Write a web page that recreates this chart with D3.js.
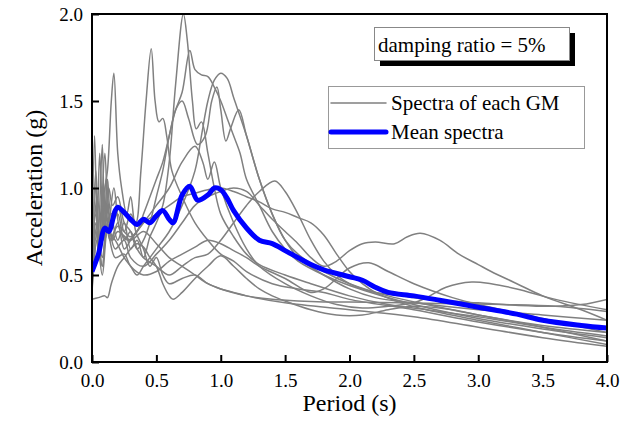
<!DOCTYPE html>
<html>
<head>
<meta charset="utf-8">
<script src="https://cdn.jsdelivr.net/npm/d3@7"></script>
<style>
  body { margin: 0; background: #fff; }
  text { font-family: "Liberation Serif", "Times New Roman", serif; }
</style>
</head>
<body>
<div class="canvas"></div>
<script>
// spectra of each ground motion, [period (s), Sa (g)]
const gm1 = [[0,0.42],[0.03,0.9],[0.05,0.6],[0.08,1.0],[0.1,0.7],[0.14,0.85],[0.2,0.7],[0.25,0.8],[0.3,0.65],[0.35,0.7],[0.4,0.6],[0.45,0.72],[0.5,0.8],[0.55,0.9],[0.6,1.15],[0.65,1.6],[0.71,2.0],[0.74,1.85],[0.78,1.5],[0.81,1.34],[0.85,1.38],[0.9,1.2],[0.95,1.0],[1.0,0.85],[1.1,0.72],[1.2,0.62],[1.3,0.56],[1.5,0.5],[1.7,0.45],[2.0,0.38],[2.3,0.33],[2.6,0.3],[3.0,0.26],[3.5,0.2],[4.0,0.15]];
const gm2 = [[0,0.55],[0.02,1.3],[0.04,0.8],[0.06,1.2],[0.09,0.7],[0.12,1.05],[0.15,0.85],[0.2,0.9],[0.25,0.75],[0.3,0.85],[0.34,0.8],[0.38,1.1],[0.42,1.5],[0.46,1.8],[0.49,1.5],[0.52,1.38],[0.55,1.4],[0.58,1.3],[0.62,1.1],[0.7,0.95],[0.8,0.8],[0.9,0.7],[1.0,0.62],[1.1,0.58],[1.2,0.52],[1.4,0.45],[1.6,0.42],[1.8,0.4],[2.0,0.36],[2.5,0.3],[3.0,0.23],[3.5,0.17],[4.0,0.12]];
const gm3 = [[0,0.5],[0.03,0.75],[0.06,0.6],[0.09,0.95],[0.12,1.1],[0.15,1.5],[0.17,1.66],[0.2,1.2],[0.23,1.0],[0.27,0.85],[0.3,0.95],[0.34,0.75],[0.4,0.65],[0.45,0.55],[0.5,0.6],[0.55,0.5],[0.6,0.45],[0.7,0.48],[0.8,0.5],[0.9,0.45],[1.0,0.42],[1.2,0.38],[1.5,0.34],[2.0,0.3],[2.5,0.26],[3.0,0.2],[3.5,0.14],[4.0,0.09]];
const gm4 = [[0,0.6],[0.03,1.1],[0.05,0.75],[0.08,1.25],[0.1,0.8],[0.13,1.0],[0.16,0.9],[0.2,0.95],[0.25,0.8],[0.3,0.75],[0.35,0.65],[0.4,0.7],[0.45,0.8],[0.5,0.95],[0.55,1.1],[0.6,1.3],[0.65,1.45],[0.7,1.55],[0.76,1.79],[0.8,1.68],[0.85,1.65],[0.9,1.64],[0.95,1.58],[1.0,1.5],[1.05,1.4],[1.1,1.3],[1.15,1.2],[1.2,1.05],[1.3,0.9],[1.4,0.75],[1.5,0.65],[1.6,0.58],[1.8,0.5],[2.0,0.44],[2.5,0.33],[3.0,0.25],[3.5,0.19],[4.0,0.14]];
const gm5 = [[0,0.45],[0.04,0.8],[0.08,0.6],[0.12,0.75],[0.18,0.7],[0.25,0.6],[0.3,0.55],[0.35,0.5],[0.4,0.55],[0.5,0.65],[0.6,0.75],[0.7,0.9],[0.8,1.1],[0.85,1.3],[0.9,1.5],[0.95,1.62],[1.0,1.66],[1.05,1.63],[1.1,1.52],[1.2,1.3],[1.3,1.05],[1.4,0.85],[1.5,0.7],[1.6,0.6],[1.8,0.5],[2.0,0.42],[2.2,0.37],[2.5,0.34],[3.0,0.3],[3.5,0.27],[4.0,0.24]];
const gm6 = [[0,0.48],[0.03,1.0],[0.06,0.7],[0.1,1.2],[0.13,0.8],[0.17,1.0],[0.22,0.75],[0.28,0.7],[0.35,0.75],[0.4,0.85],[0.45,0.95],[0.5,1.05],[0.55,1.15],[0.6,1.3],[0.65,1.45],[0.7,1.5],[0.75,1.4],[0.82,1.25],[0.88,1.3],[0.93,1.5],[0.97,1.58],[1.0,1.45],[1.04,1.27],[1.08,1.35],[1.14,1.45],[1.2,1.3],[1.3,1.05],[1.4,0.85],[1.5,0.7],[1.6,0.62],[1.8,0.52],[2.0,0.45],[2.3,0.38],[2.6,0.33],[3.0,0.27],[3.5,0.21],[4.0,0.17]];
const gm7 = [[0,0.4],[0.04,0.7],[0.08,0.55],[0.12,0.8],[0.18,0.65],[0.25,0.7],[0.3,0.6],[0.4,0.55],[0.5,0.62],[0.6,0.7],[0.7,0.8],[0.8,0.9],[0.9,0.95],[1.0,0.98],[1.1,1.0],[1.2,0.98],[1.3,0.9],[1.4,0.82],[1.5,0.75],[1.6,0.68],[1.7,0.6],[1.8,0.55],[1.9,0.58],[2.0,0.64],[2.1,0.68],[2.2,0.69],[2.35,0.68],[2.45,0.72],[2.55,0.74],[2.7,0.7],[2.85,0.62],[3.0,0.56],[3.1,0.52],[3.3,0.45],[3.5,0.38],[3.8,0.3],[4.0,0.24]];
const gm8 = [[0,0.5],[0.03,0.85],[0.07,0.65],[0.1,0.9],[0.15,0.7],[0.2,0.8],[0.25,0.65],[0.3,0.7],[0.4,0.8],[0.5,0.9],[0.6,1.0],[0.7,1.15],[0.8,1.24],[0.86,1.15],[0.9,1.05],[0.95,1.15],[1.0,1.0],[1.1,0.8],[1.2,0.65],[1.3,0.55],[1.5,0.45],[1.7,0.38],[1.9,0.33],[2.1,0.31],[2.3,0.32],[2.5,0.34],[2.6,0.37],[2.75,0.43],[2.95,0.46],[3.1,0.45],[3.3,0.42],[3.6,0.36],[4.0,0.3]];
const gm9 = [[0,0.36],[0.05,0.37],[0.1,0.38],[0.12,0.37],[0.15,0.45],[0.2,0.55],[0.25,0.6],[0.3,0.65],[0.35,0.68],[0.4,0.66],[0.45,0.6],[0.5,0.55],[0.55,0.45],[0.6,0.38],[0.63,0.36],[0.7,0.4],[0.8,0.48],[0.9,0.55],[1.0,0.61],[1.1,0.55],[1.2,0.48],[1.3,0.42],[1.4,0.38],[1.5,0.35],[1.7,0.3],[1.9,0.27],[2.1,0.27],[2.3,0.3],[2.5,0.32],[2.8,0.3],[3.0,0.27],[3.5,0.2],[4.0,0.12]];
const gm10 = [[0,0.55],[0.04,0.95],[0.08,0.7],[0.11,1.05],[0.15,0.8],[0.2,0.85],[0.25,0.7],[0.3,0.75],[0.35,0.65],[0.4,0.6],[0.5,0.55],[0.6,0.5],[0.7,0.55],[0.8,0.6],[0.9,0.62],[1.0,0.7],[1.1,0.8],[1.2,0.9],[1.3,0.98],[1.42,1.04],[1.5,0.98],[1.6,0.85],[1.7,0.7],[1.8,0.58],[1.9,0.5],[2.0,0.45],[2.1,0.42],[2.2,0.4],[2.4,0.38],[2.6,0.36],[3.0,0.34],[3.5,0.32],[3.8,0.33],[4.0,0.36]];
const gm11 = [[0,0.45],[0.04,0.75],[0.08,0.55],[0.12,0.9],[0.16,0.7],[0.2,0.75],[0.3,0.7],[0.4,0.75],[0.5,0.68],[0.6,0.6],[0.7,0.55],[0.8,0.5],[0.9,0.45],[1.0,0.42],[1.1,0.4],[1.2,0.38],[1.4,0.36],[1.6,0.35],[1.8,0.345],[2.0,0.345],[2.4,0.34],[2.8,0.335],[3.2,0.33],[3.6,0.32],[4.0,0.29]];
const gm12 = [[0,0.5],[0.03,0.8],[0.06,0.62],[0.1,0.9],[0.14,0.7],[0.2,0.78],[0.3,0.72],[0.4,0.8],[0.5,0.85],[0.6,0.9],[0.7,0.95],[0.8,0.97],[0.9,0.99],[1.0,1.0],[1.1,0.98],[1.2,0.95],[1.3,0.92],[1.4,0.88],[1.5,0.86],[1.6,0.83],[1.7,0.8],[1.8,0.73],[1.9,0.62],[2.0,0.52],[2.1,0.45],[2.2,0.4],[2.4,0.34],[2.6,0.3],[3.0,0.24],[3.5,0.17],[4.0,0.1]];
const gm13 = [[0,0.42],[0.04,0.7],[0.08,0.5],[0.12,0.75],[0.18,0.6],[0.25,0.62],[0.3,0.55],[0.4,0.5],[0.5,0.52],[0.6,0.58],[0.7,0.62],[0.8,0.66],[0.9,0.7],[1.0,0.68],[1.1,0.64],[1.2,0.6],[1.3,0.55],[1.5,0.48],[1.7,0.4],[1.8,0.42],[1.9,0.48],[2.0,0.54],[2.15,0.57],[2.3,0.52],[2.5,0.45],[2.8,0.37],[3.0,0.33],[3.5,0.25],[4.0,0.17]];
const spectra = [gm1, gm2, gm3, gm4, gm5, gm6, gm7, gm8, gm9, gm10, gm11, gm12, gm13];

// mean spectrum
const meanSpectra = [[0,0.52],[0.05,0.62],[0.1,0.77],[0.13,0.75],[0.18,0.87],[0.2,0.89],[0.25,0.86],[0.3,0.82],[0.35,0.79],[0.4,0.82],[0.45,0.8],[0.5,0.84],[0.55,0.87],[0.6,0.82],[0.63,0.8],[0.7,0.96],[0.76,1.01],[0.82,0.93],[0.9,0.96],[0.95,1.0],[1.0,0.99],[1.05,0.94],[1.1,0.87],[1.2,0.77],[1.3,0.7],[1.4,0.68],[1.5,0.64],[1.6,0.6],[1.7,0.56],[1.8,0.53],[2.0,0.49],[2.1,0.47],[2.2,0.43],[2.3,0.4],[2.5,0.38],[2.7,0.355],[3.0,0.315],[3.3,0.275],[3.5,0.24],[3.8,0.21],[4.0,0.195]];

const xTicks = [0, 0.5, 1, 1.5, 2, 2.5, 3, 3.5, 4];
const yTicks = [0, 0.5, 1, 1.5, 2];

const dims = {width: 622, height: 427};
const plot = {left: 92, right: 607, top: 14, bottom: 362};

const svg = d3.select(".canvas")
    .append("svg")
    .attr("width", dims.width)
    .attr("height", dims.height);

const x = d3.scaleLinear().domain([0, 4]).range([plot.left, plot.right]);
const y = d3.scaleLinear().domain([0, 2]).range([plot.bottom, plot.top]);

const line = d3.line()
    .x(d => x(d[0]))
    .y(d => y(d[1]))
    .curve(d3.curveCatmullRom.alpha(0.5));

svg.append("clipPath").attr("id", "clip")
  .append("rect")
    .attr("x", plot.left).attr("y", plot.top)
    .attr("width", plot.right - plot.left).attr("height", plot.bottom - plot.top);

const graph = svg.append("g").attr("clip-path", "url(#clip)");

graph.selectAll("path.gm")
  .data(spectra)
  .enter().append("path")
    .attr("class", "gm")
    .attr("d", line)
    .attr("fill", "none")
    .attr("stroke", "#808080")
    .attr("stroke-width", 1.5);

graph.append("path")
    .attr("d", line(meanSpectra))
    .attr("fill", "none")
    .attr("stroke", "#0000ff")
    .attr("stroke-width", 5)
    .attr("stroke-linejoin", "round");

// frame
svg.append("rect")
    .attr("x", plot.left).attr("y", plot.top)
    .attr("width", plot.right - plot.left).attr("height", plot.bottom - plot.top)
    .attr("fill", "none").attr("stroke", "#000").attr("stroke-width", 2);

// axes with inward ticks
const xAxis = svg.append("g")
    .attr("transform", `translate(0, ${plot.bottom})`)
    .call(d3.axisBottom(x).tickValues(xTicks).tickFormat(d3.format(".1f")).tickSizeInner(-7).tickSizeOuter(0).tickPadding(12));
const yAxis = svg.append("g")
    .attr("transform", `translate(${plot.left}, 0)`)
    .call(d3.axisLeft(y).tickValues(yTicks).tickFormat(d3.format(".1f")).tickSizeInner(-7).tickSizeOuter(0).tickPadding(9));

[xAxis, yAxis].forEach(a => {
    a.select(".domain").remove();
    a.selectAll("line").attr("stroke", "#000").attr("stroke-width", 2);
    a.selectAll("text")
        .attr("font-family", "Liberation Serif, serif")
        .attr("font-size", 19)
        .attr("fill", "#000");
});

svg.append("text")
    .attr("x", (plot.left + plot.right) / 2)
    .attr("y", 411)
    .attr("text-anchor", "middle")
    .attr("font-size", 24)
    .text("Period (s)");

svg.append("text")
    .attr("transform", `translate(42, ${(plot.top + plot.bottom) / 2}) rotate(-90)`)
    .attr("text-anchor", "middle")
    .attr("font-size", 24)
    .text("Acceleration (g)");

// damping ratio note with drop shadow
svg.append("rect")
    .attr("x", 380).attr("y", 33).attr("width", 195).attr("height", 33)
    .attr("fill", "#000");
svg.append("rect")
    .attr("x", 374.5).attr("y", 27.5).attr("width", 195).attr("height", 33)
    .attr("fill", "#fff").attr("stroke", "#888").attr("stroke-width", 1);
svg.append("text")
    .attr("x", 378).attr("y", 52)
    .attr("font-size", 21)
    .text("damping ratio = 5%");

// legend
const legendGroup = svg.append("g");
legendGroup.append("rect")
    .attr("x", 328.5).attr("y", 86.5).attr("width", 256).attr("height", 62)
    .attr("fill", "#fff").attr("stroke", "#999").attr("stroke-width", 1);
const legendItems = [
    {label: "Spectra of each GM", color: "#808080", width: 1.5},
    {label: "Mean spectra", color: "#0000ff", width: 5}
];
legendItems.forEach((item, i) => {
    const ly = 103 + i * 29;
    legendGroup.append("line")
        .attr("x1", 331).attr("x2", 386).attr("y1", ly).attr("y2", ly)
        .attr("stroke", item.color).attr("stroke-width", item.width)
        .attr("stroke-linecap", "round");
    legendGroup.append("text")
        .attr("x", 391).attr("y", ly + 7)
        .attr("font-size", 21)
        .text(item.label);
});
</script>
</body>
</html>
